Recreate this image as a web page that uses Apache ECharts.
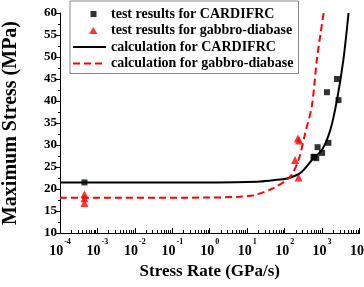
<!DOCTYPE html>
<html lang="en">
<head>
    <meta charset="utf-8">
    <title>Maximum Stress vs Stress Rate</title>
    <script src="https://cdn.jsdelivr.net/npm/echarts@6/dist/echarts.min.js"></script>
</head>
<body style="margin:0; background:#fff;">
<div id="main" style="width: 364px; height: 287px;"></div>
<script type="text/javascript">
    // values (x = stress rate GPa/s, y = MPa)
    const cardifrcTest = [[4.5e-4, 21.5], [590, 27.3], [620, 27.3], [700, 27.0], [760, 29.5],
        [1000, 28.2], [1350, 42.0], [1480, 30.5], [2500, 45.0], [2750, 40.2]];
    const gabbroTest = [[4.5e-4, 18.8], [4.5e-4, 17.9], [4.5e-4, 16.8], [190, 26.6],
        [225, 31.5], [245, 31.0], [235, 22.6]];
    const cardifrcCalc = [[1e-4, 21.5], [1, 21.5], [10, 21.6], [22, 21.7], [50, 22.0], [115, 22.4],
        [260, 23.6], [590, 27.0], [1000, 28.9], [1660, 33.4], [2500, 40.2], [3700, 49.3], [5100, 60]];
    const gabbroCalc = [[1e-4, 18.0], [1, 18.05], [6.4, 18.25], [15, 18.6], [50, 20.2], [140, 22.8],
        [235, 26.6], [355, 32.7], [537, 39.0], [725, 49.3], [1100, 60]];
    const xExponents = [-4, -3, -2, -1, 0, 1, 2, 3, 4];
    const yTicks = [10, 15, 20, 25, 30, 35, 40, 45, 50, 55, 60];

    // minor ticks 2..9 for every decade
    const minorX = [];
    for (let e = -4; e < 4; e++) {
        for (let m = 2; m <= 9; m++) minorX.push(m * Math.pow(10, e));
    }

    const font = 'Liberation Serif';
    // legend icons; the leading moves fix the 33x7 box so the marks keep their size
    const squareIcon = 'path://M0,0M33,7M17.5,0.5L23.5,0.5L23.5,6.5L17.5,6.5Z';
    const triangleIcon = 'path://M0,0M33,7M20.5,-0.5L25,7L16,7Z';
    const hiddenMark = { color: 'rgba(0,0,0,0)', borderWidth: 0 };

    const myChart = echarts.init(document.getElementById('main'));
    const option = {
        backgroundColor: '#fff',
        animation: false,
        textStyle: { fontFamily: font },
        grid: { left: 60, right: 4.5, top: 13, bottom: 54, containLabel: false, outerBoundsMode: 'none' },
        legend: {
            orient: 'vertical',
            left: 70,
            top: 1,
            padding: [6, 5, 3, 2],
            itemWidth: 33,
            itemHeight: 7,
            itemGap: 2.5,
            borderColor: '#888',
            borderWidth: 1,
            textStyle: { fontFamily: font, fontWeight: 'bold', fontSize: 14, color: '#000' },
            data: [
                { name: 'test results for CARDIFRC', icon: squareIcon },
                { name: 'test results for gabbro-diabase', icon: triangleIcon },
                { name: 'calculation for CARDIFRC', itemStyle: hiddenMark },
                { name: 'calculation for gabbro-diabase', itemStyle: hiddenMark }
            ]
        },
        xAxis: [{
            type: 'log',
            logBase: 10,
            min: 1e-4,
            max: 1e4,
            name: 'Stress Rate (GPa/s)',
            nameLocation: 'middle',
            nameGap: 28,
            nameTextStyle: { fontFamily: font, fontWeight: 'bold', fontSize: 17, color: '#000' },
            axisLine: { lineStyle: { color: '#000', width: 1 } },
            axisTick: { inside: true, length: 5, lineStyle: { color: '#000' } },
            splitLine: { show: false },
            axisLabel: {
                margin: 5,
                hideOverlap: false,
                customValues: xExponents.map(e => Math.pow(10, e)),
                formatter: function (v) {
                    const e = Math.round(Math.log10(v));
                    return '{b|10}{s|' + e + '}';
                },
                rich: {
                    b: { fontFamily: font, fontWeight: 'bold', fontSize: 14, color: '#000', lineHeight: 20, verticalAlign: 'bottom' },
                    s: { fontFamily: font, fontWeight: 'bold', fontSize: 8, color: '#000', lineHeight: 10, verticalAlign: 'top', padding: [0, 0, 0, 1] }
                }
            }
        }, {
            type: 'log',
            logBase: 10,
            min: 1e-4,
            max: 1e4,
            position: 'bottom',
            axisLine: { show: false },
            axisLabel: { show: false },
            splitLine: { show: false },
            axisTick: { inside: true, length: 3, customValues: minorX, lineStyle: { color: '#000' } }
        }],
        yAxis: {
            type: 'value',
            min: 10,
            max: 60,
            interval: 5,
            name: 'Maximum Stress (MPa)',
            nameLocation: 'middle',
            nameGap: 39,
            nameTextStyle: { fontFamily: font, fontWeight: 'bold', fontSize: 20, color: '#000' },
            axisLine: { show: true, lineStyle: { color: '#000', width: 1 } },
            axisTick: { show: true, length: 4, lineStyle: { color: '#000' } },
            minorTick: { show: true, splitNumber: 2, length: 2, lineStyle: { color: '#000' } },
            splitLine: { show: false },
            axisLabel: {
                margin: 3,
                fontFamily: font, fontWeight: 'bold', fontSize: 13, color: '#000',
                formatter: v => (yTicks.indexOf(v) >= 0 ? String(v) : '')
            }
        },
        series: [{
            name: 'test results for CARDIFRC',
            type: 'scatter',
            symbol: 'rect',
            symbolSize: 6,
            itemStyle: { color: '#000' },
            data: cardifrcTest,
            z: 5
        }, {
            name: 'test results for gabbro-diabase',
            type: 'scatter',
            symbol: 'triangle',
            symbolSize: 8,
            itemStyle: { color: '#ff0000' },
            data: gabbroTest,
            z: 5
        }, {
            name: 'calculation for CARDIFRC',
            type: 'line',
            smooth: 0.3,
            symbol: 'none',
            lineStyle: { color: '#000', width: 2 },
            itemStyle: { color: '#000' },
            data: cardifrcCalc
        }, {
            name: 'calculation for gabbro-diabase',
            type: 'line',
            smooth: 0.3,
            symbol: 'none',
            lineStyle: { color: '#ff0000', width: 2, type: [7, 4] },
            itemStyle: { color: '#ff0000' },
            data: gabbroCalc
        }]
    };
    myChart.setOption(option);
</script>
</body>
</html>
